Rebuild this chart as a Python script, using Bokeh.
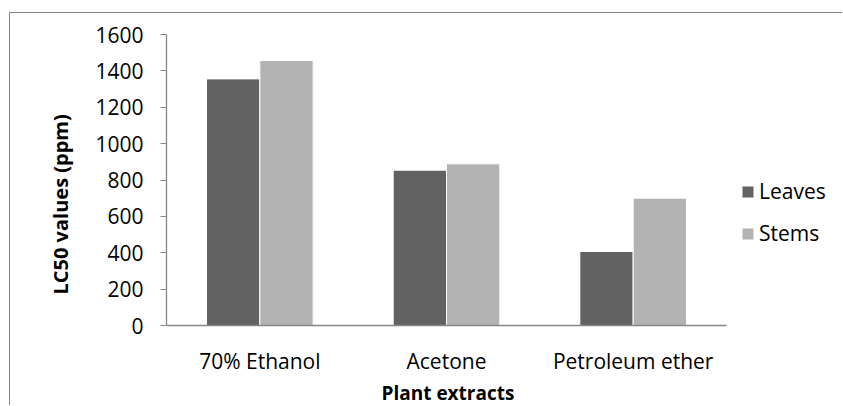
import numpy as np
from bokeh.plotting import figure
from bokeh.models import Range1d, Legend, LegendItem, ColumnDataSource, FixedTicker, Title
from bokeh.embed import file_html
from bokeh.resources import INLINE

categories = ["70% Ethanol", "Acetone", "Petroleum ether"]
leaves = [1356, 854, 407]
stems = [1457, 889, 700]
y_ticks = [0, 200, 400, 600, 800, 1000, 1200, 1400, 1600]
series_names = ["Leaves", "Stems"]
colors = ["#626262", "#b3b3b3"]
x_title = "Plant extracts"
y_title = "LC50 values (ppm)"

FONT = "Open Sans"
FS = "21px"
FSB = "20px"

n = len(categories)
centers = np.arange(n) + 0.5
bw = 1 / 3.5  # Excel-style gap width 150%

src = ColumnDataSource(data=dict(x_leaves=centers - bw / 2, x_stems=centers + bw / 2,
                                 leaves=leaves, stems=stems))

cat_px = 560            # pixel width of the category area
frame_w = 676           # frame also holds the legend area on the right
p = figure(x_range=Range1d(0, n * frame_w / cat_px), y_range=Range1d(0, 1600),
           frame_width=frame_w, frame_height=291,
           min_border_left=156, min_border_right=0, min_border_top=21, min_border_bottom=80,
           output_backend="svg", toolbar_location=None)
p.styles = {"border-top": "1.5px solid #888888", "border-left": "1.5px solid #888888",
            "margin-top": "12px", "margin-left": "9px"}

r1 = p.vbar(x="x_leaves", top="leaves", width=bw, source=src,
            fill_color=colors[0], line_color="#ffffff", line_width=1)
r2 = p.vbar(x="x_stems", top="stems", width=bw, source=src,
            fill_color=colors[1], line_color="#ffffff", line_width=1)

p.xgrid.visible = False
p.ygrid.visible = False
p.outline_line_color = None
p.background_fill_color = "white"
p.border_fill_color = "white"

ya = p.yaxis[0]
ya.ticker = FixedTicker(ticks=y_ticks)
ya.axis_line_color = "#868686"
ya.axis_line_width = 1.3
ya.major_tick_line_color = "#868686"
ya.major_tick_out = 6
ya.major_tick_in = 0
ya.minor_tick_line_color = None
ya.minor_tick_out = 0
ya.major_label_standoff = 17
ya.major_label_text_font = FONT
ya.major_label_text_font_size = FS
ya.major_label_text_color = "black"

xa = p.xaxis[0]
xa.ticker = FixedTicker(ticks=list(centers))
xa.major_label_overrides = {float(c): lab for c, lab in zip(centers, categories)}
xa.bounds = (0, n)
xa.axis_line_color = "#868686"
xa.axis_line_width = 1.3
xa.major_tick_line_color = None
xa.major_tick_out = 0
xa.major_tick_in = 0
xa.minor_tick_line_color = None
xa.minor_tick_out = 0
xa.major_label_standoff = 21
xa.major_label_text_font = FONT
xa.major_label_text_font_size = FS
xa.major_label_text_color = "black"

tx = Title(text=x_title, align="left", offset=215, vertical_align="bottom", standoff=0,
           text_font=FONT, text_font_size="19px", text_font_style="bold", text_color="black")
p.add_layout(tx, "below")
ty = Title(text=y_title, align="left", offset=31, vertical_align="middle", standoff=36,
           text_font=FONT, text_font_size=FSB, text_font_style="bold", text_color="black")
p.add_layout(ty, "left")

legend = Legend(items=[LegendItem(label=series_names[0], renderers=[r1]),
                       LegendItem(label=series_names[1], renderers=[r2])],
                location=(574, 78), padding=0, margin=0, border_line_color=None,
                background_fill_alpha=0, glyph_width=15, glyph_height=15,
                label_height=15, spacing=14, label_standoff=4,
                label_text_font=FONT, label_text_font_size=FS, label_text_color="black")
p.add_layout(legend, "center")

open("out.html", "w").write(file_html(p, INLINE))
